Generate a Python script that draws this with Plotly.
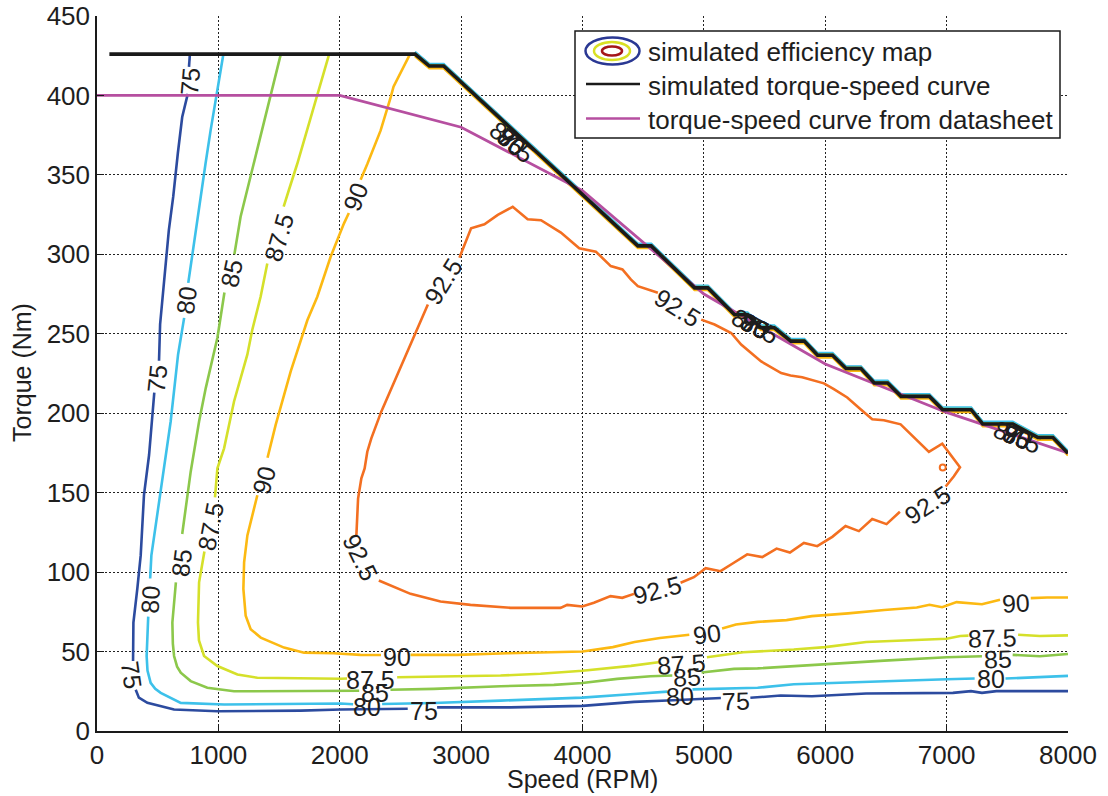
import plotly.graph_objects as go

# ---------------------------------------------------------------------------
# Efficiency contours: each level is a list of polyline pieces (speed rpm,
# torque Nm); the gaps between pieces are where the inline labels sit.
# ---------------------------------------------------------------------------
C75_SEGMENTS = [
    [(765, 425.5), (758, 418)],
    [(748, 401), (702, 386.4), (666, 363.6), (628, 336.3), (592, 315.3),
     (565, 294.3), (520, 256), (511, 233)],
    [(472, 213), (429, 173.7), (387, 148.4), (360, 110.5), (332, 89.4),
     (300, 68.3), (297, 44)],
    [(319, 26), (345, 21), (415, 17.7), (635, 13.5), (992, 12.4), (1678, 12.8),
     (2008, 13.5), (2560, 14)],
    [(2802, 14.9), (3407, 14.9), (4000, 15.8), (4424, 18.3), (4700, 19.2),
     (4996, 20.3), (5140, 20.8)],
    [(5383, 20.9), (5633, 22.3), (5890, 21.9), (6337, 23.6), (7052, 24),
     (7201, 25.1), (7291, 24), (7410, 25.1), (8000, 25.1)],
]
C75_LABELS = [(768, 409, -85), (497, 222, -84), (283, 35, 82),
              (2692, 12.5, 0), (5262, 18.8, -2)]

C80_SEGMENTS = [
    [(1040, 425.5), (985, 401), (936, 378), (894, 357), (853, 336), (812, 315),
     (771, 294), (752, 282)],
    [(718, 260), (668, 237), (607, 194.8), (566, 173.7), (525, 152.6),
     (484, 131.5), (448, 110.5), (438, 96)],
    [(422, 72), (409, 47.2), (416, 38), (442, 30.3), (480, 26.5), (525, 24),
     (690, 17.7), (1047, 16.7), (2008, 17.3), (2110, 16.8)],
    [(2349, 17), (2775, 17.6), (3325, 19.1), (3998, 21), (4424, 23.3),
     (4638, 24.5), (4700, 24.8)],
    [(4906, 26.2), (5248, 26.9), (5443, 27.2), (5741, 29.4), (6486, 31.5),
     (7000, 32.6), (7231, 33)],
    [(7485, 33), (8000, 34.7)],
]
C80_LABELS = [(740, 271, -82), (440, 83, -87), (2225, 15, 0),
              (4800, 22.3, -3), (7365, 32.5, 0)]

C85_SEGMENTS = [
    [(1513, 425.5), (1430, 400), (1362, 378), (1266, 349), (1183, 323.7),
     (1132, 300)],
    [(1050, 276), (1004, 252.4), (992, 247.5), (896, 215.8), (841, 194.8),
     (772, 163.2), (731, 142), (702, 124)],
    [(650, 93.6), (621, 68.3), (625, 55), (635, 47.2), (660, 40.5), (690, 36.7),
     (772, 31.4), (909, 27.2), (1129, 25), (2008, 25), (2160, 25.3)],
    [(2418, 26), (2775, 26.5), (3325, 28.2), (3764, 29), (3998, 30.2),
     (4286, 32.8), (4561, 34.5), (4740, 34.9)],
    [(4981, 36.8), (5248, 39.1), (5443, 39.4), (6000, 42.1), (6486, 44.3),
     (7000, 46.4), (7291, 47)],
    [(7544, 47.9), (7768, 47), (8000, 48.5)],
]
C85_LABELS = [(1112, 288, -78), (694, 106, -83), (2290, 24.2, 0),
              (4860, 34, -3), (7425, 45.5, -2)]

C875_SEGMENTS = [
    [(1911, 425.5), (1815, 400), (1733, 378), (1650, 357), (1581, 340.5),
     (1538, 330)],
    [(1403, 294.3), (1348, 273.3), (1279, 252.4), (1239, 237), (1129, 207.4),
     (1047, 177.9), (992, 165.3), (972, 147)],
    [(885, 113), (841, 93.6), (832, 68.3), (840, 57), (882, 47.2), (992, 40.9),
     (1157, 35.6), (1321, 33.5), (2008, 32.9), (2060, 33)],
    [(2473, 33.8), (2775, 34.2), (3325, 34.9), (3654, 36), (4000, 37.9),
     (4399, 41), (4608, 43.2), (4640, 43.4)],
    [(5025, 46.4), (5324, 49.6), (5741, 51.3), (6000, 52.8), (6337, 56),
     (6635, 57), (7000, 58.1), (7112, 59.8), (7180, 60)],
    [(7589, 60.6), (7768, 59.8), (8000, 60.2)],
]
C875_LABELS = [(1499, 311, -74), (937, 129, -79), (2253, 32, 0),
               (4817, 42.3, -4), (7380, 58.3, -2)]

C90_SEGMENTS = [
    [(2576, 425.5), (2443, 405.5), (2420, 399), (2337, 378), (2228, 357),
     (2172, 347)],
    [(2075, 326), (2035, 319.5), (1925, 298.5), (1815, 273.3), (1733, 258.5),
     (1596, 226.4), (1472, 192.7), (1405, 172)],
    [(1321, 148.4), (1239, 123.1), (1212, 106.2), (1206, 89.4), (1225, 72.5),
     (1266, 64.1), (1349, 58.8), (1541, 52.5), (1706, 49.3), (1951, 48.9),
     (2170, 47.9), (2340, 47.8)],
    [(2583, 47.9), (2967, 47.9), (3380, 48.9), (3764, 49.6), (4000, 50),
     (4250, 52.8), (4429, 56), (4638, 58.5), (4880, 60.6)],
    [(5150, 64.5), (5264, 67), (5443, 68.7), (5681, 69.8), (5890, 72.3),
     (6188, 74), (6486, 76.2), (6754, 77.7), (6859, 79.4), (6963, 77.9),
     (7082, 81.1), (7291, 79.8), (7440, 82.6)],
    [(7693, 83.6), (7828, 84), (8000, 84)],
]
C90_LABELS = [(2131, 336, -69), (1376, 158, -75), (2470, 46.8, 0),
              (5025, 61, -8), (7574, 80.5, -3)]

C925_SEGMENTS = [
    [(2322, 94.7), (2460, 90), (2583, 86.3), (2830, 81.5), (3077, 79.4),
     (3407, 77.5), (3819, 77.5), (3874, 79.4), (3998, 78.4), (4094, 80.7),
     (4231, 84.9), (4328, 83.8), (4424, 86.3)],
    [(4808, 93.3), (4918, 96.8), (5015, 102.5), (5137, 100.6), (5247, 105.9),
     (5357, 111.2), (5481, 109.5), (5599, 114.8), (5709, 112.3), (5824, 118.4),
     (5934, 116.3), (6058, 122.2), (6167, 129), (6277, 125.8), (6387, 133.4),
     (6505, 130.2), (6615, 138)],
    [(6992, 153.9), (7060, 160.3), (7110, 166), (6992, 178.6), (6964, 180.8),
     (6854, 175.7), (6758, 182.9), (6621, 193), (6483, 195.6), (6387, 196.2),
     (6291, 202.5), (6181, 209.9), (6071, 215.2), (5989, 218.8), (5810, 222.6),
     (5714, 223.7), (5637, 225.3), (5472, 232.6), (5307, 243.2), (5225, 250.5),
     (5088, 255.8), (4978, 258.9)],
    [(4621, 275.8), (4456, 280), (4398, 284.2), (4329, 290.5), (4233, 292.6),
     (4110, 301.7), (3973, 303.8), (3822, 313.7), (3658, 321.5), (3548, 322.1),
     (3425, 329.9), (3302, 324.8), (3192, 318.9), (3082, 316.4), (2986, 297.9)],
    [(2726, 268.4), (2617, 249.5), (2507, 230.5), (2411, 213.7), (2342, 201),
     (2260, 184.2), (2227, 175.8), (2205, 165.3), (2178, 159), (2151, 146.3),
     (2137, 129.5), (2137, 123.2)],
]
C925_LABELS = [(4616, 88.5, -15), (6840, 142.5, -33), (4786, 266, 32),
               (2855, 283, -58), (2175, 109, 64)]
C925_ISLAND = [(6968, 165.8)]

# Labels of the levels that crowd together along the torque limit
BOUNDARY_LABELS = [(3420, 371, 40), (5422, 255, 27), (7580, 185, 22)]

# Simulated torque-speed envelope
ENV_SPEED = [102, 2620, 2738, 2856, 4456, 4566, 4923, 5033, 5253, 5360, 5469,
             5580, 5717, 5827, 5937, 6060, 6171, 6294, 6404, 6514, 6624, 6858,
             6968, 7202, 7298, 7545, 7752, 7876, 8000]
ENV_TORQUE = [426, 426, 418.5, 418.5, 305.3, 305.3, 278.9, 278.9, 262, 262,
              253.8, 253.8, 245.4, 245.4, 236.5, 236.5, 228.1, 228.1, 219, 219,
              210.6, 210.6, 202.2, 202.2, 193.2, 193.2, 184.7, 184.7, 174.8]

# Torque-speed curve from the datasheet
DS_SPEED = [0, 1000, 2000, 3000, 4000, 5000, 6000, 7000, 8000]
DS_TORQUE = [400, 400, 400, 380, 340, 275, 231, 200.5, 175]

X_TICKS = [0, 1000, 2000, 3000, 4000, 5000, 6000, 7000, 8000]
Y_TICKS = [0, 50, 100, 150, 200, 250, 300, 350, 400, 450]

LEVELS = [
    ("75", "#2c4b9f", C75_SEGMENTS, C75_LABELS),
    ("80", "#3dc1ea", C80_SEGMENTS, C80_LABELS),
    ("85", "#8cc84b", C85_SEGMENTS, C85_LABELS),
    ("87.5", "#d5e02a", C875_SEGMENTS, C875_LABELS),
    ("90", "#fcb912", C90_SEGMENTS, C90_LABELS),
    ("92.5", "#f36f21", C925_SEGMENTS, C925_LABELS),
]
# small torque offsets for the levels that run along the envelope
EDGE_OFFSET = {"75": 1.0, "80": 1.4, "85": 0.5, "87.5": -0.9, "90": -1.4}

FONT = "Liberation Sans, Arial, Helvetica, sans-serif"
TXT = "#1e1e1e"

W, H = 1108, 796
ML, MR, MT, MB = 97, 40, 16, 65
PW, PH = W - ML - MR, H - MT - MB


def px(x, y):
    """Pixel position on the page -> paper coordinates."""
    return (x - ML) / PW, (H - MB - y) / PH


fig = go.Figure()

# contour bands squeezed against the torque limit
for name, color, _, _ in LEVELS:
    if name in EDGE_OFFSET:
        fig.add_trace(go.Scatter(
            x=ENV_SPEED[1:], y=[t + EDGE_OFFSET[name] for t in ENV_TORQUE[1:]],
            mode="lines", line=dict(color=color, width=2.4),
            hoverinfo="skip", showlegend=False))

# efficiency contour lines
for name, color, segments, _ in LEVELS:
    xs, ys = [], []
    for seg in segments:
        xs += [p[0] for p in seg] + [None]
        ys += [p[1] for p in seg] + [None]
    fig.add_trace(go.Scatter(x=xs, y=ys, mode="lines", connectgaps=False,
                             line=dict(color=color, width=2.6),
                             name=name + " %", showlegend=False))

fig.add_trace(go.Scatter(
    x=[p[0] for p in C925_ISLAND], y=[p[1] for p in C925_ISLAND],
    mode="markers", marker=dict(color="#f36f21", size=6, symbol="circle-open",
                                line=dict(width=2, color="#f36f21")),
    showlegend=False))

fig.add_trace(go.Scatter(x=DS_SPEED, y=DS_TORQUE, mode="lines",
                         line=dict(color="#b64fa0", width=2.8),
                         name="torque-speed curve from datasheet",
                         showlegend=False))
fig.add_trace(go.Scatter(x=ENV_SPEED, y=ENV_TORQUE, mode="lines",
                         line=dict(color="#1a1a1a", width=3.6),
                         name="simulated torque-speed curve",
                         showlegend=False))

annotations = []
for name, color, _, labels in LEVELS:
    for (s, t, ang) in labels:
        annotations.append(dict(x=s, y=t, xref="x", yref="y", text=name,
                                showarrow=False, textangle=ang,
                                xanchor="center", yanchor="middle",
                                font=dict(family=FONT, size=25, color=TXT)))
for (s, t, ang) in BOUNDARY_LABELS:
    for name, _, _, _ in LEVELS[:5]:
        annotations.append(dict(x=s, y=t, xref="x", yref="y", text=name,
                                showarrow=False, textangle=ang,
                                xanchor="center", yanchor="middle",
                                font=dict(family=FONT, size=25, color=TXT)))

# axis titles
ax, ay = px(582, 779)
annotations.append(dict(x=ax, y=ay, xref="paper", yref="paper",
                        text="Speed (RPM)", showarrow=False,
                        xanchor="center", yanchor="middle",
                        font=dict(family=FONT, size=25, color=TXT)))
ax, ay = px(22, 373)
annotations.append(dict(x=ax, y=ay, xref="paper", yref="paper",
                        text="Torque (Nm)", showarrow=False, textangle=-90,
                        xanchor="center", yanchor="middle",
                        font=dict(family=FONT, size=25, color=TXT)))

# legend drawn by hand
shapes = []
x0, y0 = px(575, 138)
x1, y1 = px(1060, 31)
shapes.append(dict(type="rect", xref="paper", yref="paper", x0=x0, y0=y0,
                   x1=x1, y1=y1, fillcolor="white",
                   line=dict(color="#1a1a1a", width=1.5), layer="above"))
for (cx, cy, rx, ry, col) in [(612.5, 51, 27, 13.5, "#2a3893"),
                              (612, 51, 18, 9, "#d9e024"),
                              (612, 51, 10, 4.6, "#a4161a")]:
    a0, b0 = px(cx - rx, cy + ry)
    a1, b1 = px(cx + rx, cy - ry)
    shapes.append(dict(type="circle", xref="paper", yref="paper", x0=a0,
                       y0=b0, x1=a1, y1=b1, line=dict(color=col, width=2.5),
                       layer="above"))
for (yy, col) in [(84, "#1a1a1a"), (118.5, "#b64fa0")]:
    a0, b = px(586, yy)
    a1, _ = px(640, yy)
    shapes.append(dict(type="line", xref="paper", yref="paper", x0=a0, y0=b,
                       x1=a1, y1=b, line=dict(color=col, width=2.6),
                       layer="above"))
for (yy, txt) in [(52, "simulated efficiency map"),
                  (86, "simulated torque-speed curve"),
                  (120, "torque-speed curve from datasheet")]:
    a, b = px(646, yy)
    annotations.append(dict(x=a, y=b, xref="paper", yref="paper", text=txt,
                            xanchor="left", yanchor="middle", showarrow=False,
                            font=dict(family=FONT, size=26, color=TXT)))

axis_common = dict(showgrid=True, gridcolor="#222222", griddash="2px,2px",
                   gridwidth=1, zeroline=False, showline=True,
                   linecolor="#1a1a1a", linewidth=1.5, ticks="inside",
                   ticklen=7, tickcolor="#1a1a1a", mirror=False,
                   automargin=False,
                   tickfont=dict(family=FONT, size=26, color=TXT))

fig.update_layout(
    width=W, height=H,
    margin=dict(l=ML, r=MR, t=MT, b=MB, autoexpand=False),
    paper_bgcolor="white", plot_bgcolor="white",
    xaxis=dict(range=[0, 8000], tickvals=X_TICKS, **axis_common),
    yaxis=dict(range=[0, 450], tickvals=Y_TICKS, **axis_common),
    annotations=annotations, shapes=shapes, showlegend=False,
)

fig.write_html("out.html")
